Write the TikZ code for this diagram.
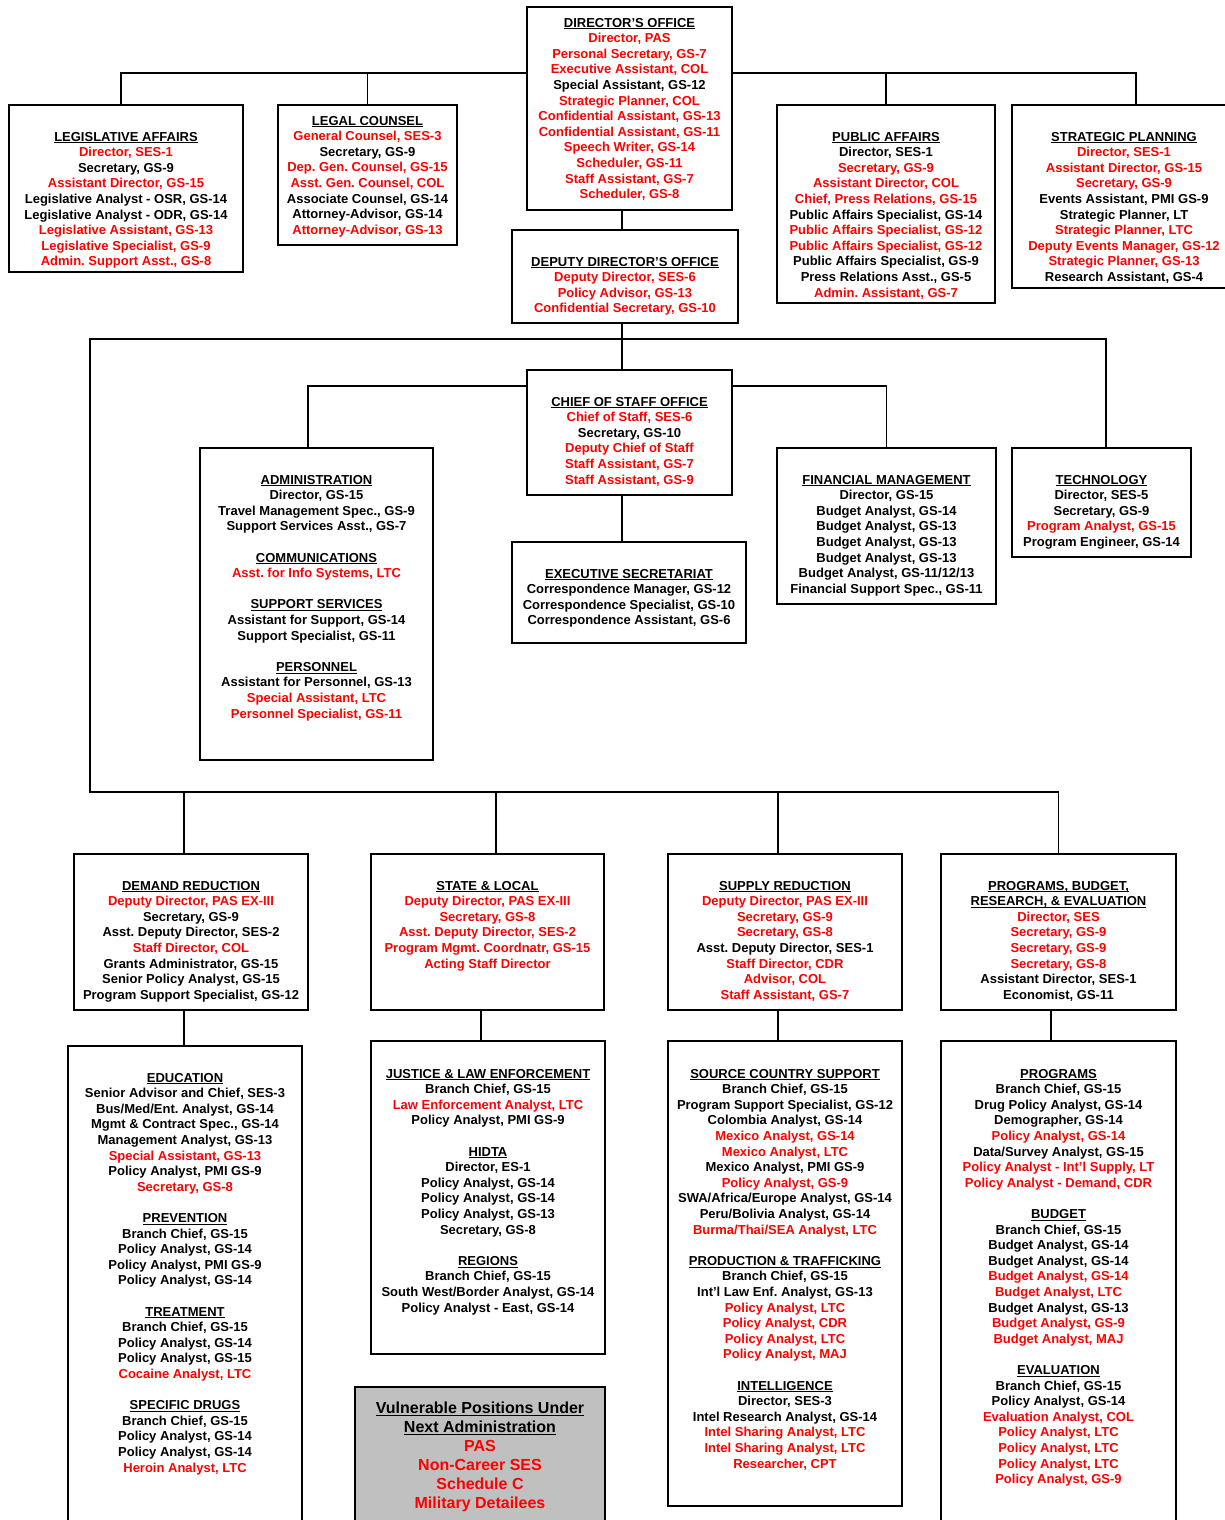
\documentclass[tikz,border=0pt]{standalone}
\usepackage{fontspec}
\setmainfont{Liberation Sans}
\definecolor{politicalred}{RGB}{255,0,0}
\definecolor{legendgray}{RGB}{192,192,192}
\newcommand{\pol}[1]{\textcolor{politicalred}{#1}}
\newcommand{\uline}[1]{\underline{\raisebox{0pt}[\height][0pt]{#1}}}
\frenchspacing

\begin{document}
\begin{tikzpicture}[x=1pt, y=-1pt, line width=1.1pt,
  unit/.style={draw, rectangle, inner sep=0pt},
  staff/.style={align=center, anchor=north, inner sep=0pt, font=\fontsize{13}{15.6}\selectfont\bfseries},
  legendtext/.style={align=center, anchor=north, inner sep=0pt, font=\fontsize{16}{19}\selectfont\bfseries}]
\useasboundingbox (0,0) rectangle (1225,1520);
\clip (0,0) rectangle (1225,1520);

\coordinate (topbus) at (0,73);
\coordinate (spine) at (622,0);
\coordinate (midbus) at (90,339);
\coordinate (chiefbus) at (622,386);
\coordinate (lowbus) at (90,792);

\node[unit, minimum width=205pt, minimum height=203pt] (dir) at (629.5,108.5) {};
\node[unit, minimum width=234pt, minimum height=167pt] (legis) at (126,188.5) {};
\node[unit, minimum width=179pt, minimum height=140pt] (legal) at (367.5,175) {};
\node[unit, minimum width=218pt, minimum height=198pt] (public) at (886,204) {};
\node[unit, minimum width=224pt, minimum height=183pt] (strat) at (1124,196.5) {};
\node[unit, minimum width=226pt, minimum height=93pt] (deputy) at (625,276.5) {};
\node[unit, minimum width=205pt, minimum height=125pt] (chief) at (629.5,432.5) {};
\node[unit, minimum width=233pt, minimum height=312pt] (admin) at (316.5,604) {};
\node[unit, minimum width=219pt, minimum height=156pt] (fin) at (886.5,526) {};
\node[unit, minimum width=179pt, minimum height=109pt] (tech) at (1101.5,502.5) {};
\node[unit, minimum width=234pt, minimum height=101pt] (exec) at (629,592.5) {};
\node[unit, minimum width=234pt, minimum height=156pt] (demand) at (191,932) {};
\node[unit, minimum width=233pt, minimum height=156pt] (state) at (487.5,932) {};
\node[unit, minimum width=234pt, minimum height=156pt] (supply) at (785,932) {};
\node[unit, minimum width=235pt, minimum height=156pt] (prbe) at (1058.5,932) {};
\node[unit, minimum width=234pt, minimum height=494pt] (edu) at (185,1293) {};
\node[unit, minimum width=234pt, minimum height=313pt] (justice) at (488,1197.5) {};
\node[unit, minimum width=234pt, minimum height=465pt] (source) at (785,1273.5) {};
\node[unit, minimum width=235pt, minimum height=499pt] (programs) at (1058.5,1290.5) {};
\node[unit, fill=legendgray, line width=1.6pt, minimum width=250pt, minimum height=153pt] (legend) at (480,1463.5) {};

\draw (dir.west |- topbus) -| ([xshift=-5pt]legis.north);
\draw (legal.north) -- (legal.north |- topbus);
\draw (dir.east |- topbus) -| ([xshift=12pt]strat.north);
\draw (public.north) -- (public.north |- topbus);
\draw (dir.south -| spine) -- (deputy.north -| spine);
\draw (deputy.south -| spine) -- (chief.north -| spine);
\draw ([xshift=4.5pt]tech.north) |- (midbus) -- (lowbus) -| (prbe.north);
\draw ([xshift=-8.5pt]admin.north) |- (chief.west |- chiefbus);
\draw (chief.east |- chiefbus) -| (fin.north);
\draw (chief.south -| spine) -- (exec.north -| spine);
\draw ([xshift=-7pt]demand.north) |- (lowbus);
\draw ([xshift=8.5pt]state.north) |- (lowbus);
\draw ([xshift=-7pt]supply.north) |- (lowbus);
\draw ([xshift=-1pt]edu.north) |- (demand.south);
\draw ([xshift=-7pt]justice.north) |- (state.south);
\draw ([xshift=-7pt]source.north) |- (supply.south);
\draw ([xshift=-7.5pt]programs.north) |- (prbe.south);

\node[staff] (dir-t) at (629.5,17.5) {\uline{DIRECTOR'S OFFICE}\\ \pol{Director, PAS}\\ \pol{Personal Secretary, GS-7}\\ \pol{Executive Assistant, COL}\\ Special Assistant, GS-12\\ \pol{Strategic Planner, COL}\\ \pol{Confidential Assistant, GS-13}\\ \pol{Confidential Assistant, GS-11}\\ \pol{Speech Writer, GS-14}\\ \pol{Scheduler, GS-11}\\ \pol{Staff Assistant, GS-7}\\ \pol{Scheduler, GS-8}};
\node[staff] (legis-t) at (126,131.5) {\uline{LEGISLATIVE AFFAIRS}\\ \pol{Director, SES-1}\\ Secretary, GS-9\\ \pol{Assistant Director, GS-15}\\ Legislative Analyst - OSR, GS-14\\ Legislative Analyst - ODR, GS-14\\ \pol{Legislative Assistant, GS-13}\\ \pol{Legislative Specialist, GS-9}\\ \pol{Admin. Support Asst., GS-8}};
\node[staff] (legal-t) at (367.5,115.5) {\uline{LEGAL COUNSEL}\\ \pol{General Counsel, SES-3}\\ Secretary, GS-9\\ \pol{Dep. Gen. Counsel, GS-15}\\ \pol{Asst. Gen. Counsel, COL}\\ Associate Counsel, GS-14\\ Attorney-Advisor, GS-14\\ \pol{Attorney-Advisor, GS-13}};
\node[staff] (public-t) at (886,131.5) {\uline{PUBLIC AFFAIRS}\\ Director, SES-1\\ \pol{Secretary, GS-9}\\ \pol{Assistant Director, COL}\\ \pol{Chief, Press Relations, GS-15}\\ Public Affairs Specialist, GS-14\\ \pol{Public Affairs Specialist, GS-12}\\ \pol{Public Affairs Specialist, GS-12}\\ Public Affairs Specialist, GS-9\\ Press Relations Asst., GS-5\\ \pol{Admin. Assistant, GS-7}};
\node[staff] (strat-t) at (1124,131.5) {\uline{STRATEGIC PLANNING}\\ \pol{Director, SES-1}\\ \pol{Assistant Director, GS-15}\\ \pol{Secretary, GS-9}\\ Events Assistant, PMI GS-9\\ Strategic Planner, LT\\ \pol{Strategic Planner, LTC}\\ \pol{Deputy Events Manager, GS-12}\\ \pol{Strategic Planner, GS-13}\\ Research Assistant, GS-4};
\node[staff] (deputy-t) at (625,256.5) {\uline{DEPUTY DIRECTOR'S OFFICE}\\ \pol{Deputy Director, SES-6}\\ \pol{Policy Advisor, GS-13}\\ \pol{Confidential Secretary, GS-10}};
\node[staff] (chief-t) at (629.5,396.5) {\uline{CHIEF OF STAFF OFFICE}\\ \pol{Chief of Staff, SES-6}\\ Secretary, GS-10\\ \pol{Deputy Chief of Staff}\\ \pol{Staff Assistant, GS-7}\\ \pol{Staff Assistant, GS-9}};
\node[staff] (admin-t) at (316.5,474.5) {\uline{ADMINISTRATION}\\ Director, GS-15\\ Travel Management Spec., GS-9\\ Support Services Asst., GS-7\\[15.6pt] \uline{COMMUNICATIONS}\\ \pol{Asst. for Info Systems, LTC}\\[15.6pt] \uline{SUPPORT SERVICES}\\ Assistant for Support, GS-14\\ Support Specialist, GS-11\\[15.6pt] \uline{PERSONNEL}\\ Assistant for Personnel, GS-13\\ \pol{Special Assistant, LTC}\\ \pol{Personnel Specialist, GS-11}};
\node[staff] (fin-t) at (886.5,474.5) {\uline{FINANCIAL MANAGEMENT}\\ Director, GS-15\\ Budget Analyst, GS-14\\ Budget Analyst, GS-13\\ Budget Analyst, GS-13\\ Budget Analyst, GS-13\\ Budget Analyst, GS-11/12/13\\ Financial Support Spec., GS-11};
\node[staff] (tech-t) at (1101.5,474.5) {\uline{TECHNOLOGY}\\ Director, SES-5\\ Secretary, GS-9\\ \pol{Program Analyst, GS-15}\\ Program Engineer, GS-14};
\node[staff] (exec-t) at (629,568.5) {\uline{EXECUTIVE SECRETARIAT}\\ Correspondence Manager, GS-12\\ Correspondence Specialist, GS-10\\ Correspondence Assistant, GS-6};
\node[staff] (demand-t) at (191,880.5) {\uline{DEMAND REDUCTION}\\ \pol{Deputy Director, PAS EX-III}\\ Secretary, GS-9\\ Asst. Deputy Director, SES-2\\ \pol{Staff Director, COL}\\ Grants Administrator, GS-15\\ Senior Policy Analyst, GS-15\\ Program Support Specialist, GS-12};
\node[staff] (state-t) at (487.5,880.5) {\uline{STATE \& LOCAL}\\ \pol{Deputy Director, PAS EX-III}\\ \pol{Secretary, GS-8}\\ \pol{Asst. Deputy Director, SES-2}\\ \pol{Program Mgmt. Coordnatr, GS-15}\\ \pol{Acting Staff Director}};
\node[staff] (supply-t) at (785,880.5) {\uline{SUPPLY REDUCTION}\\ \pol{Deputy Director, PAS EX-III}\\ \pol{Secretary, GS-9}\\ \pol{Secretary, GS-8}\\ Asst. Deputy Director, SES-1\\ \pol{Staff Director, CDR}\\ \pol{Advisor, COL}\\ \pol{Staff Assistant, GS-7}};
\node[staff] (prbe-t) at (1058.5,880.5) {\uline{PROGRAMS, BUDGET,}\\ \uline{RESEARCH, \& EVALUATION}\\ \pol{Director, SES}\\ \pol{Secretary, GS-9}\\ \pol{Secretary, GS-9}\\ \pol{Secretary, GS-8}\\ Assistant Director, SES-1\\ Economist, GS-11};
\node[staff] (edu-t) at (185,1072.5) {\uline{EDUCATION}\\ Senior Advisor and Chief, SES-3\\ Bus/Med/Ent. Analyst, GS-14\\ Mgmt \& Contract Spec., GS-14\\ Management Analyst, GS-13\\ \pol{Special Assistant, GS-13}\\ Policy Analyst, PMI GS-9\\ \pol{Secretary, GS-8}\\[15.6pt] \uline{PREVENTION}\\ Branch Chief, GS-15\\ Policy Analyst, GS-14\\ Policy Analyst, PMI GS-9\\ Policy Analyst, GS-14\\[15.6pt] \uline{TREATMENT}\\ Branch Chief, GS-15\\ Policy Analyst, GS-14\\ Policy Analyst, GS-15\\ \pol{Cocaine Analyst, LTC}\\[15.6pt] \uline{SPECIFIC DRUGS}\\ Branch Chief, GS-15\\ Policy Analyst, GS-14\\ Policy Analyst, GS-14\\ \pol{Heroin Analyst, LTC}};
\node[staff] (justice-t) at (488,1068.5) {\uline{JUSTICE \& LAW ENFORCEMENT}\\ Branch Chief, GS-15\\ \pol{Law Enforcement Analyst, LTC}\\ Policy Analyst, PMI GS-9\\[15.6pt] \uline{HIDTA}\\ Director, ES-1\\ Policy Analyst, GS-14\\ Policy Analyst, GS-14\\ Policy Analyst, GS-13\\ Secretary, GS-8\\[15.6pt] \uline{REGIONS}\\ Branch Chief, GS-15\\ South West/Border Analyst, GS-14\\ Policy Analyst - East, GS-14};
\node[staff] (source-t) at (785,1068.5) {\uline{SOURCE COUNTRY SUPPORT}\\ Branch Chief, GS-15\\ Program Support Specialist, GS-12\\ Colombia Analyst, GS-14\\ \pol{Mexico Analyst, GS-14}\\ \pol{Mexico Analyst, LTC}\\ Mexico Analyst, PMI GS-9\\ \pol{Policy Analyst, GS-9}\\ SWA/Africa/Europe Analyst, GS-14\\ Peru/Bolivia Analyst, GS-14\\ \pol{Burma/Thai/SEA Analyst, LTC}\\[15.6pt] \uline{PRODUCTION \& TRAFFICKING}\\ Branch Chief, GS-15\\ Int'l Law Enf. Analyst, GS-13\\ \pol{Policy Analyst, LTC}\\ \pol{Policy Analyst, CDR}\\ \pol{Policy Analyst, LTC}\\ \pol{Policy Analyst, MAJ}\\[15.6pt] \uline{INTELLIGENCE}\\ Director, SES-3\\ Intel Research Analyst, GS-14\\ \pol{Intel Sharing Analyst, LTC}\\ \pol{Intel Sharing Analyst, LTC}\\ \pol{Researcher, CPT}};
\node[staff] (programs-t) at (1058.5,1068.5) {\uline{PROGRAMS}\\ Branch Chief, GS-15\\ Drug Policy Analyst, GS-14\\ Demographer, GS-14\\ \pol{Policy Analyst, GS-14}\\ Data/Survey Analyst, GS-15\\ \pol{Policy Analyst - Int'l Supply, LT}\\ \pol{Policy Analyst - Demand, CDR}\\[15.6pt] \uline{BUDGET}\\ Branch Chief, GS-15\\ Budget Analyst, GS-14\\ Budget Analyst, GS-14\\ \pol{Budget Analyst, GS-14}\\ \pol{Budget Analyst, LTC}\\ Budget Analyst, GS-13\\ \pol{Budget Analyst, GS-9}\\ \pol{Budget Analyst, MAJ}\\[15.6pt] \uline{EVALUATION}\\ Branch Chief, GS-15\\ Policy Analyst, GS-14\\ \pol{Evaluation Analyst, COL}\\ \pol{Policy Analyst, LTC}\\ \pol{Policy Analyst, LTC}\\ \pol{Policy Analyst, LTC}\\ \pol{Policy Analyst, GS-9}};
\node[legendtext] (legend-t) at (480,1401.5) {\uline{Vulnerable Positions Under}\\ \uline{Next Administration}\\ \pol{PAS}\\ \pol{Non-Career SES}\\ \pol{Schedule C}\\ \pol{Military Detailees}};
\end{tikzpicture}
\end{document}
